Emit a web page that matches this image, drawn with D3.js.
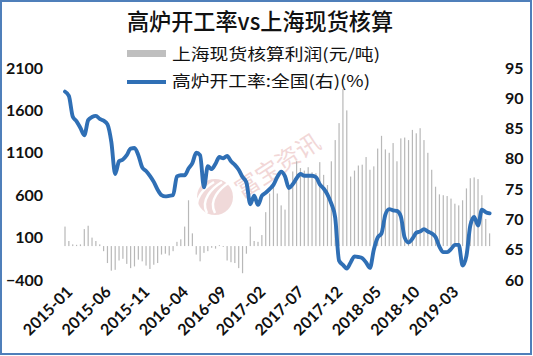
<!DOCTYPE html>
<html>
<head>
<meta charset="utf-8">
<script src="https://cdn.jsdelivr.net/npm/d3@7/dist/d3.min.js"></script>
<style>
html,body{margin:0;padding:0;background:#fff;}
svg{display:block;}
</style>
</head>
<body>
<svg id="chart" width="533" height="356"></svg>
<script>
// ---- data (semi-monthly samples, 2015-01 .. 2019-08) ----
const startYear = 2015;
const profit = [230,60,20,15,20,200,240,100,60,20,
  -60,-200,-290,-280,-170,-150,-210,-260,-240,-160,
  -180,-230,-270,-220,-200,-100,-90,-110,-60,50,
  80,230,540,150,-100,-180,-80,-60,-20,-30,
  10,-10,-170,-190,-200,-260,-320,-90,230,60,
  50,130,400,620,700,620,480,430,700,880,
  1000,920,890,930,870,860,990,840,720,1000,
  1250,1450,1850,1600,820,890,950,960,1050,900,
  940,1150,1300,1140,1100,1215,1000,1270,1280,1250,
  1370,1330,1390,1250,1100,900,700,610,600,590,
  560,500,480,540,680,800,810,790,600,320,150];
const rate = [91.1,90.4,87.0,86.2,85.1,83.9,86.4,86.9,87.1,86.6,
  86.3,85.7,82.8,77.5,79.6,79.9,80.6,81.7,81.8,80.6,
  78.6,78.0,77.2,76.2,74.9,74.0,73.8,73.9,74.0,77.1,
  77.3,77.3,78.4,79.3,81.0,80.6,75.3,78.8,78.3,79.2,
  80.3,80.1,80.5,79.6,79.0,78.2,77.0,76.1,72.5,73.9,
  72.4,73.9,74.4,75.0,75.7,77.0,77.9,77.1,75.2,75.8,
  76.8,77.5,77.2,77.2,77.2,77.0,75.8,75.1,74.1,72.6,
  70.3,63.2,62.5,61.9,62.9,63.9,63.8,63.6,62.9,62.0,
  65.0,67.0,67.7,70.8,71.7,71.5,71.4,70.5,67.0,66.2,
  66.8,67.8,68.0,68.4,68.0,67.7,67.1,65.5,64.6,64.6,
  65.1,65.8,65.8,62.4,64.0,69.0,70.4,69.0,71.6,71.2,71.0];
const xTickLabels = ["2015-01","2015-06","2015-11","2016-04","2016-09","2017-02","2017-07","2017-12","2018-05","2018-10","2019-03"];
const leftTicks = [2100,1600,1100,600,100,-400];
const rightTicks = [95,90,85,80,75,70,65,60];
const titleText = "高炉开工率vs上海现货核算";
const legend1 = "上海现货核算利润(元/吨)";
const legend2 = "高炉开工率:全国(右)(%)";

// period keys: two per month
const periods = profit.map((_, i) => {
  const m = Math.floor(i / 2);
  const y = startYear + Math.floor(m / 12);
  const mm = String(m % 12 + 1).padStart(2, "0");
  return `${y}-${mm}` + (i % 2 ? "b" : "a");
});

const svg = d3.select("#chart");
const blue = "#2f6fb5";
const grey = "#b8b8b8";

// frame
svg.append("rect").attr("x",1).attr("y",1).attr("width",530).attr("height",353)
  .attr("fill","#fff").attr("stroke","#4f7fba").attr("stroke-width",2);

const x = d3.scalePoint().domain(periods).range([65, 489.6]);
const yL = d3.scaleLinear().domain([-400, 2100]).range([280, 68]);
const yR = d3.scaleLinear().domain([60, 95]).range([280, 68]);

// watermark
const wm = svg.append("g").attr("opacity",0.5);
wm.append("circle").attr("cx",215).attr("cy",197).attr("r",18).attr("fill","#e3b5b5");
[-8,0,8].forEach(d => wm.append("path")
  .attr("d",`M${207+d},${213} C${200+d},${200} ${212+d},${188} ${222+d},${182}`)
  .attr("fill","none").attr("stroke","#fff").attr("stroke-width",2.5));
wm.append("text").attr("transform","translate(242,199) rotate(-33)")
  .attr("font-family","Noto Sans CJK SC").attr("font-size",24).attr("fill","#e6b0b0")
  .text("富宝资讯");

// bars
const bw = 1.2;
svg.append("g").selectAll("rect").data(profit).join("rect")
  .attr("x", (d,i) => x(periods[i]) - bw/2)
  .attr("width", bw)
  .attr("y", d => Math.min(yL(d), yL(0)))
  .attr("height", d => Math.abs(yL(d) - yL(0)))
  .attr("fill", grey);

// line
const line = d3.line().x((d,i) => x(periods[i])).y(d => yR(d)).curve(d3.curveMonotoneX);
svg.append("path").datum(rate).attr("d", line)
  .attr("fill","none").attr("stroke",blue).attr("stroke-width",3.9)
  .attr("stroke-linejoin","round").attr("stroke-linecap","round");

// axes
const numFont = "Lato, 'DejaVu Sans', sans-serif";
const gl = svg.append("g").attr("transform","translate(43,0)")
  .call(d3.axisLeft(yL).tickValues(leftTicks).tickSize(0).tickPadding(0).tickFormat(d3.format("d")));
const gr = svg.append("g").attr("transform","translate(505,0)")
  .call(d3.axisRight(yR).tickValues(rightTicks).tickSize(0).tickPadding(0));
const tickPeriods = xTickLabels.map(l => l + "a");
const gb = svg.append("g").attr("transform","translate(0,282)")
  .call(d3.axisBottom(x).tickValues(tickPeriods).tickSize(0).tickPadding(0)
    .tickFormat(p => p.slice(0,7)));
[gl,gr,gb].forEach(g => {
  g.select(".domain").remove();
  g.selectAll("text").attr("font-family",numFont).attr("font-weight",700)
    .attr("font-size",16).attr("fill","#111");
});
gb.selectAll("text").attr("text-anchor","end").attr("dy","0.35em")
  .attr("transform","translate(4,7) rotate(-45)");

// title
svg.append("text").attr("x",127).attr("y",30).attr("textLength",266).attr("lengthAdjust","spacingAndGlyphs")
  .attr("font-family","'Noto Sans CJK SC'").attr("font-size",23).attr("font-weight",500).attr("fill","#111")
  .text(titleText);

// legend
svg.append("rect").attr("x",127).attr("y",50).attr("width",39).attr("height",7).attr("fill","#bfbfbf");
svg.append("text").attr("x",172).attr("y",60).attr("textLength",208).attr("lengthAdjust","spacingAndGlyphs")
  .attr("font-family","'Noto Sans CJK SC'").attr("font-size",16).attr("fill","#111").text(legend1);
svg.append("line").attr("x1",127).attr("x2",166).attr("y1",82).attr("y2",82)
  .attr("stroke",blue).attr("stroke-width",4);
svg.append("text").attr("x",172).attr("y",87).attr("textLength",198).attr("lengthAdjust","spacingAndGlyphs")
  .attr("font-family","'Noto Sans CJK SC'").attr("font-size",16).attr("fill","#111").text(legend2);
</script>
</body>
</html>
